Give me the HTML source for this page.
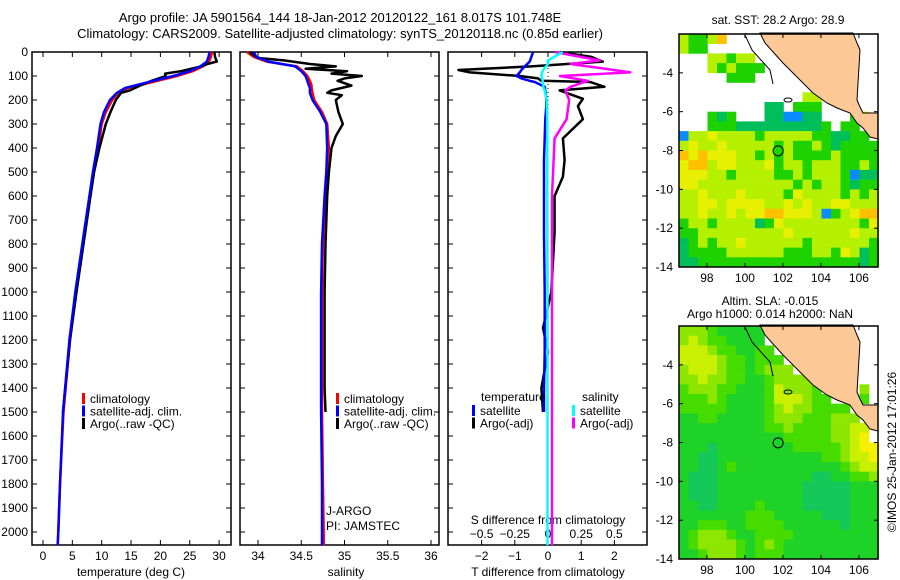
<!DOCTYPE html>
<html><head><meta charset="utf-8"><style>
html,body{margin:0;padding:0;background:#fff;}
svg{display:block;font-family:"Liberation Sans",sans-serif;}
text{font-size:12px;fill:#000;}
</style></head><body>
<svg id="fig" width="900" height="580" viewBox="0 0 900 580" xmlns="http://www.w3.org/2000/svg">
<text x="340" y="22" text-anchor="middle" style="font-size:13px">Argo profile: JA 5901564_144 18-Jan-2012 20120122_161 8.017S 101.748E</text>
<text x="340" y="38" text-anchor="middle" style="font-size:13px">Climatology: CARS2009. Satellite-adjusted climatology: synTS_20120118.nc (0.85d earlier)</text>
<g id="p1"></g>
<g id="p2"></g>
<g id="p3"></g>
<g id="m1"></g>
<g id="m2"></g>
<text x="778" y="24" text-anchor="middle">sat. SST: 28.2 Argo: 28.9</text>
<text x="770" y="305" text-anchor="middle">Altim. SLA: -0.015</text>
<text x="770" y="318" text-anchor="middle">Argo h1000: 0.014 h2000: NaN</text>
<text x="896" y="452" text-anchor="middle" transform="rotate(-90 896 452)">©IMOS 25-Jan-2012 17:01:26</text>
</svg>
<script>
// ---- data ----
const depthTicks=[0,100,200,300,400,500,600,700,800,900,1000,1100,1200,1300,1400,1500,1600,1700,1800,1900,2000];
const tempTicks=[0,5,10,15,20,25,30];
const salTicks=[34,34.5,35,35.5,36];
const tdTicks=[-2,-1,0,1,2];
const sdTicks=[-0.5,-0.25,0,0.25,0.5];
const climDepth=[0,20,40,60,80,100,120,140,150,170,200,250,300,400,500,600,800,1000,1200,1500,1800,2000,2055];
const climTemp=[28.8,28.6,28.3,27.2,25.5,22.8,19.5,16.2,14.5,12.8,11.8,10.7,10.0,9.4,8.6,8.0,6.8,5.6,4.6,3.5,2.9,2.6,2.5];
const satTemp=[28.4,28.2,27.9,26.8,25.0,22.2,18.8,15.6,14.0,12.6,11.4,10.4,9.8,9.2,8.5,7.9,6.7,5.5,4.5,3.4,2.9,2.6,2.5];
const argoDepth=[0,20,40,50,60,80,90,100,120,140,160,170,200,250,300,400,500,600,800,1000,1200,1400,1500];
const argoTemp=[29.2,29.3,29.6,28.0,27.0,23.5,20.8,20.9,18.5,16.5,14.8,13.3,12.4,11.5,10.7,9.6,8.7,8.1,6.9,5.7,4.6,3.8,3.4];
const climSal=[33.87,33.95,34.1,34.45,34.52,34.57,34.6,34.62,34.62,34.63,34.65,34.74,34.8,34.82,34.8,34.78,34.75,34.74,34.74,34.74,34.75,34.76,34.76];
const satSal=[33.95,33.98,34.12,34.43,34.5,34.55,34.57,34.59,34.6,34.6,34.63,34.72,34.79,34.8,34.79,34.77,34.74,34.73,34.73,34.73,34.74,34.74,34.74];
const argoSalDepth=[0,25,35,50,60,70,80,90,100,110,120,140,160,170,180,200,250,300,350,400,500,600,800,1000,1200,1400,1500];
const argoSal=[33.9,34.0,34.3,34.6,34.9,34.55,35.03,34.85,35.2,35.0,34.92,35.08,34.85,34.8,34.97,34.9,34.93,34.98,34.9,34.85,34.82,34.8,34.78,34.77,34.77,34.77,34.78];
const diffDepth=[0,20,40,60,75,85,100,110,120,125,145,160,195,225,280,360,450,520,600,750,1000,1150,1250,1400,1500];
const satTdiff=[-0.45,-0.5,-0.55,-0.7,-0.8,-0.85,-0.95,-0.8,-0.55,-0.4,-0.1,-0.08,-0.05,-0.05,-0.08,-0.1,-0.12,-0.12,-0.12,-0.12,-0.1,-0.1,-0.1,-0.12,-0.12];
const argoTdiff=[0.36,1.3,1.65,-0.5,-2.7,-2.35,-0.85,-0.3,-0.2,1.27,1.7,0.35,1.05,0.9,1.05,0.45,0.5,0.45,0.2,0.2,0.1,-0.15,0.0,-0.2,-0.15];
const sdDepth=[0,35,50,70,85,100,120,145,160,200,280,360,600,1000,1500,2055];
const argoSdiff=[0.05,0.39,0.17,0.43,0.62,0.09,0.3,0.17,0.13,0.16,0.14,0.05,0.03,0.03,0.03,0.03];
const satSdiff=[0.11,0.0,0.0,-0.03,-0.045,-0.05,-0.04,-0.035,-0.025,-0.01,-0.005,-0.005,-0.005,-0.004,-0.004,-0.004];
const lonTicks=[98,100,102,104,106];
const latTicks=[-4,-6,-8,-10,-12,-14];
const argoLon=101.748, argoLat=-8.017;
const sstGrid=[
"lgglo                ","lgg                  ","   llgll             ","   lglggg            ","     ggg             ",
"                     ","             ll      ","         GG ggg      ","   gGg   GGbbGG   gl ","   gggGGGGGGGGGg gg  ",
"bllyllllglllllggGGgg ","lyllylllllglgglgGgggg","oyoyyyllglglgggglgggg","yoolyylllygllglllgglg","yyyllgllllgglglllgbGG",
"yyllllllllllglgllgGgg","llylllyllllgyllllglgl","llyylyyyyllylyllyylll","llyllylyyooyyylbglyoo","gllgllllGgyllllllllgy",
"gglllllllllyllllllyll","Gglgllyllllllgllllllg","GggggllllllgggllgylGg","GGgggggggggggggggggGg"];
const slaGrid=[
"bbbcddddd            ","babccdddd            ","aaabccddcc           ","aaaabccdccc          ","baaabccdcbbb         ",
"bbabbccddcbbbb       ","cbbbccdddcabbbc    b ","cccbcddddcaaabcc   c ","cccccddddcbabbcccc   ","ddccdddddcbbbcccbbb  ",
"dddddddddccbccccbbaa ","dddddddddddcccccbbaf ","dddeddddddddcccccbaff","ddeedddddddddddccbaaf","ddeedcdddddddddddcbaa",
"deeeddddddddddeeddccb","deeedddddddddeeeeeddd","deeedddddddddeeeeeddd","ddeeddddcddddeeeeeddd","dddddddcccdddddeeeddd",
"ddcccddccccddddddeddd","dcbbbcddccccddddddddd","dcbbbbcdcbcdddddddddd","ddcbbbcdcccdddddddddd"];
// ---- helpers ----
const NS="http://www.w3.org/2000/svg";
function mk(parent,tag,attrs){const e=document.createElementNS(NS,tag);for(const k in attrs)e.setAttribute(k,attrs[k]);parent.appendChild(e);return e;}
const yD=d=>52+d*0.24;
function frame(g,x0,x1,name){
  const r=mk(g,'rect',{x:x0,y:52,width:x1-x0,height:493,fill:'none',stroke:'#000','stroke-width':1.5});
  
  
}
function depthAxis(g,x0,x1,labels){
  depthTicks.forEach(d=>{
    mk(g,'line',{x1:x0,x2:x0+5,y1:yD(d),y2:yD(d),stroke:'#000'});
    mk(g,'line',{x1:x1-5,x2:x1,y1:yD(d),y2:yD(d),stroke:'#000'});
    if(labels){const t=mk(g,'text',{x:x0-4,y:yD(d)+4,'text-anchor':'end'});t.textContent=d;
      
      }
  });
}
function xAxis(g,ticks,sx,ly,top){
  ticks.forEach(v=>{
    const x=sx(v);
    mk(g,'line',{x1:x,x2:x,y1:545,y2:540,stroke:'#000'});
    if(top!==false) mk(g,'line',{x1:x,x2:x,y1:52,y2:57,stroke:'#000'});
    const t=mk(g,'text',{x:x,y:ly,'text-anchor':'middle'});t.textContent=v;
    
    
  });
}
function stepLine(g,xs,ds,sx,color,name,w){
  let p='';
  for(let i=0;i<xs.length;i++){const x=sx(xs[i]),y=yD(ds[i]);p+=(i?'L':'M')+x.toFixed(1)+' '+y.toFixed(1);}
  const e=mk(g,'path',{d:p,fill:'none',stroke:color,'stroke-width':w||2.5,'stroke-linejoin':'round'});
  
  
}
function legend(g,x,y,items){
  items.forEach((it,i)=>{
    const yy=y+i*12.5;
    mk(g,'rect',{x:x,y:yy-10,width:3,height:11,fill:it[0]});
    const t=mk(g,'text',{x:x+8,y:yy});t.textContent=it[1];
    
    
  });
}
function label(g,x,y,s,name,anchor){const t=mk(g,'text',{x:x,y:y,'text-anchor':anchor||'middle'});t.textContent=s;
  
  }
// ---- panel 1 temperature ----
const p1=document.getElementById('p1');
const sT=v=>43+v*5.87;
frame(p1,32,231,'temperature-axes-frame');depthAxis(p1,32,231,true);
xAxis(p1,tempTicks,sT,560);
label(p1,131,576,'temperature (deg C)','x-axis-title');
stepLine(p1,climTemp,climDepth,sT,'#f00','temp-climatology-line');
stepLine(p1,argoTemp,argoDepth,sT,'#000','temp-argo-line');
stepLine(p1,satTemp,climDepth,sT,'#00f','temp-satellite-line');
legend(p1,82,403,[['#f00','climatology'],['#00f','satellite-adj. clim.'],['#000','Argo(..raw -QC)']]);
// ---- panel 2 salinity ----
const p2=document.getElementById('p2');
const sS=v=>258+(v-34)*86.5;
frame(p2,240,439,'salinity-axes-frame');depthAxis(p2,240,439,false);
xAxis(p2,salTicks,sS,560);
label(p2,346,576,'salinity','x-axis-title');
stepLine(p2,climSal,climDepth,sS,'#f00','sal-climatology-line');
stepLine(p2,argoSal,argoSalDepth,sS,'#000','sal-argo-line');
stepLine(p2,satSal,climDepth,sS,'#00f','sal-satellite-line');
legend(p2,336,403,[['#f00','climatology'],['#00f','satellite-adj. clim.'],['#000','Argo(..raw -QC)']]);
label(p2,326,515,'J-ARGO','float-program-label','start');
label(p2,326,530,'PI: JAMSTEC','pi-label','start');
// ---- panel 3 differences ----
const p3=document.getElementById('p3');
const sTd=v=>548+v*33.2;
const sSd=v=>548+v*132.8;
frame(p3,448,647,'difference-axes-frame');depthAxis(p3,448,647,false);
tdTicks.forEach(v=>{const x=sTd(v);mk(p3,'line',{x1:x,x2:x,y1:52,y2:57,stroke:'#000'});label(p3,x,560,String(v).replace('-','−'),'t-diff-tick-label');});
sdTicks.forEach(v=>{const x=sSd(v);mk(p3,'line',{x1:x,x2:x,y1:545,y2:540,stroke:'#000'});label(p3,x,538,String(v).replace('-','−'),'s-diff-tick-label');});
label(p3,548,524,'S difference from climatology','s-diff-axis-title');
label(p3,548,576,'T difference from climatology','t-diff-axis-title');
mk(p3,'line',{x1:sTd(0),x2:sTd(0),y1:52,y2:545,stroke:'#000','stroke-dasharray':'1 3'});
stepLine(p3,argoTdiff,diffDepth,sTd,'#000','t-diff-argo-line');
stepLine(p3,argoSdiff,sdDepth,sSd,'#f0f','s-diff-argo-line');
stepLine(p3,satTdiff,diffDepth,sTd,'#00f','t-diff-satellite-line');
stepLine(p3,satSdiff,sdDepth,sSd,'#0ff','s-diff-satellite-line');
label(p3,481,401,'temperature','legend-heading-temperature','start');
label(p3,582,401,'salinity','legend-heading-salinity','start');
legend(p3,472,415,[['#00f','satellite'],['#000','Argo(-adj)']]);
legend(p3,572,415,[['#0ff','satellite'],['#f0f','Argo(-adj)']]);
// ---- maps ----
const landPts=[[760,33],[765,43],[783,63],[800,80],[813,93],[827,103],[837,108],[850,113],[857,123],[863,128],[870,137],[878,139],[878,113],[863,113],[860,107],[857,100],[860,50],[857,43],[853,33]];
function drawMap(gid,grid,colors,top,name){
  const g=document.getElementById(gid);
  const L=679,R=878,T=top,B=top+233;
  const sx=lon=>L+(lon-96.53)*19.0;
  const sy=lat=>T+(-2-lat)*19.42;
  mk(g,'rect',{x:L,y:T,width:R-L,height:B-T,fill:'#fff'});
  grid.forEach((row,r)=>{
    for(let c=0;c<21;c++){const ch=row[c];if(!ch||ch===' ')continue;
      const x0=sx(96.53+c*0.5),y0=sy(-2-r*0.5);
      const cell=mk(g,'rect',{x:x0.toFixed(1),y:y0.toFixed(1),width:9.8,height:10,fill:colors[ch]});
      
      }
  });
  const dy=top-34;
  const land=mk(g,'polygon',{points:landPts.map(p=>p[0]+','+(p[1]+dy)).join(' '),fill:'#fcc896',stroke:'#000','stroke-width':1});
  
  
  mk(g,'path',{d:`M745 ${35+dy} L752 ${50+dy} L770 ${70+dy} L773 ${84+dy}`,fill:'none',stroke:'#000'});
  mk(g,'ellipse',{cx:788,cy:100+dy,rx:4,ry:2,fill:'none',stroke:'#000'});
  const mkr=mk(g,'circle',{cx:sx(argoLon),cy:sy(argoLat),r:5,fill:'none',stroke:'#000'});
  
  
  const fr=mk(g,'rect',{x:L,y:T,width:R-L,height:B-T,fill:'none',stroke:'#000','stroke-width':1.5});
  
  
  lonTicks.forEach(v=>{const x=sx(v);mk(g,'line',{x1:x,x2:x,y1:B,y2:B-4,stroke:'#000'});mk(g,'line',{x1:x,x2:x,y1:T,y2:T+4,stroke:'#000'});
    const t=mk(g,'text',{x:x,y:B+15,'text-anchor':'middle'});t.textContent=v;
    
    });
  latTicks.forEach(v=>{const y=sy(v);mk(g,'line',{x1:L,x2:L+4,y1:y,y2:y,stroke:'#000'});mk(g,'line',{x1:R-4,x2:R,y1:y,y2:y,stroke:'#000'});
    const t=mk(g,'text',{x:L-6,y:y+4,'text-anchor':'end'});t.textContent=v;
    
    });
}
drawMap('m1',sstGrid,{l:'#b4f000',g:'#1ed200',G:'#00be5a',y:'#e6f000',o:'#ffc000',b:'#0a8cff'},34,'sst-map');
drawMap('m2',slaGrid,{a:'#c8f000',b:'#8ce600',c:'#46dc00',d:'#1ed228',e:'#14c85a',f:'#f5f000'},326,'sla-map');
</script>
</body></html>
